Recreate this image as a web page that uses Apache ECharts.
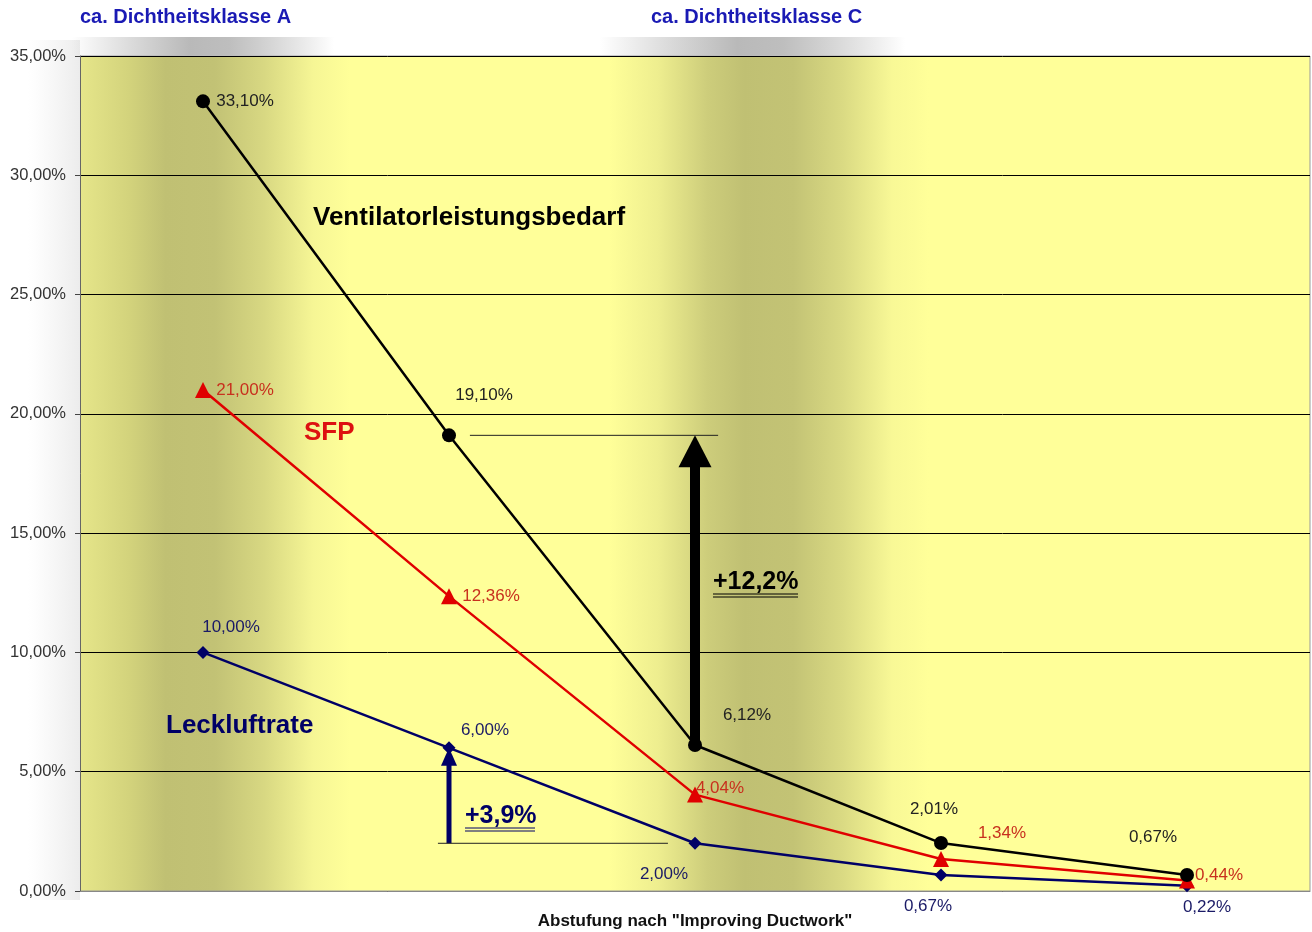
<!DOCTYPE html>
<html style="height: 100%">
<head>
   <meta charset="utf-8">
</head>
<style>
    body, html, #chart {
        width: 100%;
        height: 100%;
        margin: 0;
        background: #fff;
    }
</style>
<title>Dichtheitsklassen</title>
<script src="https://cdn.jsdelivr.net/npm/echarts@6/dist/echarts.min.js"></script>
<body>
   <div id="chart"></div>
   <script type="text/javascript">
    // Abstufungen (x-Positionen 0..4)
    var categories = ['1', '2', '3', '4', '5'];
    var ventilator = [33.10, 19.10, 6.12, 2.01, 0.67];
    var sfp = [21.00, 12.36, 4.04, 1.34, 0.44];
    var leckluft = [10.00, 6.00, 2.00, 0.67, 0.22];
    var yTicks = [0, 5, 10, 15, 20, 25, 30, 35];
    // Pfeile: [x, von, bis]
    var arrows = [[2, 6.12, 19.10], [1, 2.00, 6.00]];
    // Hilfslinien: [xVon, xBis, y]
    var refLines = [[1.085, 2.094, 19.10], [0.955, 1.890, 2.00]];

    // Label-Versatz je Punkt (Pixel)
    var offVent = [[42, 0], [35, -40], [52, -30], [-7, -34], [-34, -38]];
    var offSfp = [[42, 0], [42, 0], [25, -6], [61, -26], [32, -5]];
    var offLeck = [[28, -25], [36, -18], [-31, 31], [-13, 31], [20, 22]];
    var arrowStyles = [
        {color: '#000', shaft: 10, headW: 33, head: 32},
        {color: '#000066', shaft: 5, headW: 16, head: 18}
    ];

    var fmt = function (v) { return v.toFixed(2).replace('.', ',') + '%'; };

    function mkData(vals, offs, color) {
        return vals.map(function (v, i) {
            return {
                value: [categories.indexOf(categories[i]), v],
                label: {offset: offs[i], color: color}
            };
        });
    }

    var font = 'Liberation Sans, Arial, sans-serif';
    var chart = echarts.init(document.getElementById('chart'));

    var gridBg = new echarts.graphic.LinearGradient(0, 0, 1, 0, [
        {offset: 0, color: '#e6e68a'},
        {offset: 0.04, color: '#d3d37c'},
        {offset: 0.07, color: '#c0c073'},
        {offset: 0.11, color: '#c2c275'},
        {offset: 0.15, color: '#d8d882'},
        {offset: 0.19, color: '#f6f695'},
        {offset: 0.22, color: '#ffff99'},
        {offset: 0.43, color: '#ffff99'},
        {offset: 0.47, color: '#eeee8f'},
        {offset: 0.51, color: '#cdcd7b'},
        {offset: 0.54, color: '#c0c073'},
        {offset: 0.58, color: '#c3c375'},
        {offset: 0.62, color: '#dada83'},
        {offset: 0.66, color: '#f8f896'},
        {offset: 0.69, color: '#ffff99'},
        {offset: 1, color: '#ffff99'}
    ]);

    function grayBand() {
        return new echarts.graphic.LinearGradient(0, 0, 1, 0, [
            {offset: 0, color: 'rgba(180,180,180,0)'},
            {offset: 0.45, color: 'rgba(185,185,185,1)'},
            {offset: 0.6, color: 'rgba(190,190,190,1)'},
            {offset: 1, color: 'rgba(180,180,180,0)'}
        ]);
    }

    var option = {
        backgroundColor: '#fff',
        animation: false,
        grid: {
            left: 80, right: 2, top: 56, bottom: 41,
            outerBoundsMode: 'none',
            containLabel: false,
            show: true,
            backgroundColor: gridBg,
            borderColor: '#999',
            borderWidth: 1
        },
        xAxis: {
            type: 'value',
            min: -0.5,
            max: 4.5,
            name: 'Abstufung nach "Improving Ductwork"',
            nameLocation: 'middle',
            nameGap: 22,
            nameTextStyle: {fontFamily: font, fontSize: 17, fontWeight: 'bold', color: '#111'},
            axisLine: {show: true, onZero: false, lineStyle: {color: '#888'}},
            axisTick: {show: false},
            axisLabel: {show: false},
            splitLine: {show: false}
        },
        yAxis: {
            type: 'value',
            min: yTicks[0],
            max: yTicks[yTicks.length - 1],
            interval: 5,
            axisLine: {show: true, onZero: false, lineStyle: {color: '#666'}},
            axisTick: {show: true, length: 5, lineStyle: {color: '#444'}},
            axisLabel: {fontFamily: font, fontSize: 16.5, color: '#333', margin: 14, formatter: fmt},
            splitLine: {show: true, lineStyle: {color: '#000', width: 1}}
        },
        graphic: [
            {type: 'rect', shape: {x: 28, y: 40, width: 52, height: 860}, silent: true,
             style: {fill: new echarts.graphic.LinearGradient(0, 0, 1, 0, [
                 {offset: 0, color: 'rgba(240,240,240,0)'}, {offset: 1, color: 'rgba(236,236,236,1)'}])}},
            {type: 'rect', shape: {x: 72, y: 37, width: 262, height: 19}, silent: true, style: {fill: grayBand()}},
            {type: 'rect', shape: {x: 600, y: 37, width: 305, height: 19}, silent: true, style: {fill: grayBand()}},
            {type: 'text', x: 80, y: 17, style: {text: 'ca. Dichtheitsklasse A', font: 'bold 20px ' + font, fill: '#1a1ab4', textVerticalAlign: 'middle'}},
            {type: 'text', x: 651, y: 17, style: {text: 'ca. Dichtheitsklasse C', font: 'bold 20px ' + font, fill: '#1a1ab4', textVerticalAlign: 'middle'}},
            {type: 'text', x: 313, y: 218, z: 10, style: {text: 'Ventilatorleistungsbedarf', font: 'bold 26px ' + font, fill: '#000', textVerticalAlign: 'middle'}},
            {type: 'text', x: 304, y: 433, z: 10, style: {text: 'SFP', font: 'bold 26px ' + font, fill: '#dd1111', textVerticalAlign: 'middle'}},
            {type: 'text', x: 166, y: 726, z: 10, style: {text: 'Leckluftrate', font: 'bold 26px ' + font, fill: '#000066', textVerticalAlign: 'middle'}},
            {type: 'text', x: 713, y: 582, z: 10, style: {text: '+12,2%', font: 'bold 25px ' + font, fill: '#000', textVerticalAlign: 'middle'}},
            {type: 'line', z: 10, shape: {x1: 713, y1: 594, x2: 798, y2: 594}, style: {stroke: '#000', lineWidth: 1}},
            {type: 'line', z: 10, shape: {x1: 713, y1: 597, x2: 798, y2: 597}, style: {stroke: '#000', lineWidth: 1}},
            {type: 'text', x: 465, y: 816, z: 10, style: {text: '+3,9%', font: 'bold 25px ' + font, fill: '#000066', textVerticalAlign: 'middle'}},
            {type: 'line', z: 10, shape: {x1: 465, y1: 828, x2: 535, y2: 828}, style: {stroke: '#000066', lineWidth: 1}},
            {type: 'line', z: 10, shape: {x1: 465, y1: 831, x2: 535, y2: 831}, style: {stroke: '#000066', lineWidth: 1}}
        ],
        series: [
            {
                type: 'custom',
                z: 1,
                clip: false,
                data: arrows,
                renderItem: function (params, api) {
                    var s = arrowStyles[params.dataIndex];
                    var p0 = api.coord([api.value(0), api.value(1)]);
                    var p1 = api.coord([api.value(0), api.value(2)]);
                    var cx = p0[0];
                    var hb = p1[1] + s.head;
                    return {
                        type: 'group',
                        children: [
                            {type: 'rect', shape: {x: cx - s.shaft / 2, y: hb - 1, width: s.shaft, height: p0[1] - hb + 1}, style: {fill: s.color}},
                            {type: 'polygon', shape: {points: [[cx, p1[1]], [cx - s.headW / 2, hb], [cx + s.headW / 2, hb]]}, style: {fill: s.color}}
                        ]
                    };
                }
            },
            {
                type: 'custom',
                z: 1,
                data: refLines,
                renderItem: function (params, api) {
                    var a = api.coord([api.value(0), api.value(2)]);
                    var b = api.coord([api.value(1), api.value(2)]);
                    return {type: 'line', shape: {x1: a[0], y1: a[1], x2: b[0], y2: b[1]}, style: {stroke: '#222', lineWidth: 1}};
                }
            },
            {
                name: 'Leckluftrate',
                type: 'line',
                z: 3,
                clip: false,
                data: mkData(leckluft, offLeck, '#1a1a66'),
                symbol: 'diamond',
                symbolSize: 13,
                lineStyle: {color: '#000066', width: 2.5},
                itemStyle: {color: '#000066'},
                label: {show: true, position: 'inside', fontFamily: font, fontSize: 17,
                        formatter: function (p) { return fmt(p.value[1]); }}
            },
            {
                name: 'SFP',
                type: 'line',
                z: 4,
                clip: false,
                data: mkData(sfp, offSfp, '#c8301e'),
                symbol: 'triangle',
                symbolSize: 16,
                lineStyle: {color: '#e00000', width: 2.5},
                itemStyle: {color: '#e00000'},
                label: {show: true, position: 'inside', fontFamily: font, fontSize: 17,
                        formatter: function (p) { return fmt(p.value[1]); }}
            },
            {
                name: 'Ventilatorleistungsbedarf',
                type: 'line',
                z: 5,
                clip: false,
                data: mkData(ventilator, offVent, '#222'),
                symbol: 'circle',
                symbolSize: 14,
                lineStyle: {color: '#000', width: 2.5},
                itemStyle: {color: '#000'},
                label: {show: true, position: 'inside', fontFamily: font, fontSize: 17,
                        formatter: function (p) { return fmt(p.value[1]); }}
            }
        ]
    };
    chart.setOption(option);
    </script>
</body>
</html>
